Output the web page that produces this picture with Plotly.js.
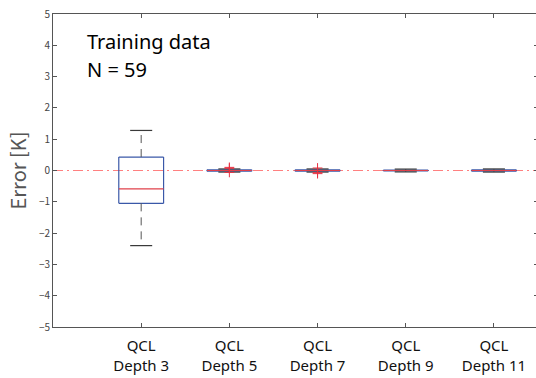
<!DOCTYPE html>
<html>
<head>
<meta charset="utf-8">
<script src="https://cdn.plot.ly/plotly-3.0.1.min.js"></script>
<style>
  html, body { margin: 0; padding: 0; overflow: hidden; background: #fff; }
  #chart { width: 540px; height: 378px; }
</style>
</head>
<body>
<div id="chart"></div>
<script>
// Box statistics of the error [K] for each QCL circuit depth
const positions = [1, 2, 3, 4, 5];
const tickLabels = ['QCL<br>Depth 3', 'QCL<br>Depth 5', 'QCL<br>Depth 7', 'QCL<br>Depth 9', 'QCL<br>Depth 11'];
const lowerWhisker = [-2.40, -0.05, -0.05, -0.045, -0.05];
const q1 = [-1.05, -0.02, -0.02, -0.015, -0.02];
const median = [-0.59, 0.0, 0.0, 0.0, 0.0];
const q3 = [0.43, 0.02, 0.02, 0.015, 0.02];
const upperWhisker = [1.28, 0.05, 0.05, 0.045, 0.05];
const outliers = [[], [0.10, 0.07, -0.06], [0.08, -0.07, -0.10], [], []];
const yTicks = [-5, -4, -3, -2, -1, 0, 1, 2, 3, 4, 5];

// drawing sizes (in x-axis units)
const halfBox = 0.254;
const halfCap = 0.125;

function segs(fn) {
  const xs = [], ys = [];
  positions.forEach((p, i) => {
    fn(p, i).forEach(s => { xs.push(s[0][0], s[1][0], null); ys.push(s[0][1], s[1][1], null); });
  });
  return { xs, ys };
}

const box = segs((p, i) => [
  [[p - halfBox, q1[i]], [p + halfBox, q1[i]]],
  [[p + halfBox, q1[i]], [p + halfBox, q3[i]]],
  [[p + halfBox, q3[i]], [p - halfBox, q3[i]]],
  [[p - halfBox, q3[i]], [p - halfBox, q1[i]]]
]);
const whisk = segs((p, i) => [
  [[p, q3[i]], [p, upperWhisker[i]]],
  [[p, q1[i]], [p, lowerWhisker[i]]]
]);
const caps = segs((p, i) => [
  [[p - halfCap, upperWhisker[i]], [p + halfCap, upperWhisker[i]]],
  [[p - halfCap, lowerWhisker[i]], [p + halfCap, lowerWhisker[i]]]
]);
const med = segs((p, i) => [[[p - halfBox, median[i]], [p + halfBox, median[i]]]]);

const outX = [], outY = [];
positions.forEach((p, i) => outliers[i].forEach(v => { outX.push(p); outY.push(v); }));

const traces = [
  { x: box.xs, y: box.ys, mode: 'lines', line: { color: '#3a58a8', width: 1.2 }, hoverinfo: 'skip' },
  { x: whisk.xs, y: whisk.ys, mode: 'lines', line: { color: '#555555', width: 1, dash: '8px,6px' }, hoverinfo: 'skip' },
  { x: caps.xs, y: caps.ys, mode: 'lines', line: { color: '#3a3a3a', width: 1.2 }, hoverinfo: 'skip' },
  { x: med.xs, y: med.ys, mode: 'lines', line: { color: '#e0404a', width: 1.2 }, hoverinfo: 'skip' },
  { x: outX, y: outY, mode: 'markers', marker: { symbol: 'cross-thin', size: 7, line: { color: '#e83040', width: 1 } }, hoverinfo: 'skip' }
];

const annotations = [
  { x: 0.067, y: 1, xref: 'paper', yref: 'paper', xanchor: 'left', yanchor: 'top', yshift: -12,
    text: 'Training data', showarrow: false, font: { family: 'Noto Sans', size: 20, color: '#000' } },
  { x: 0.067, y: 1, xref: 'paper', yref: 'paper', xanchor: 'left', yanchor: 'top', yshift: -40,
    text: 'N = 59', showarrow: false, font: { family: 'Noto Sans', size: 20, color: '#000' } }
];

const layout = {
  width: 540, height: 378,
  margin: { l: 53, r: 2, t: 14, b: 51, pad: 0 },
  paper_bgcolor: '#fff', plot_bgcolor: '#fff',
  showlegend: false,
  annotations: annotations,
  xaxis: {
    range: [0, 5.5], tickvals: positions, ticktext: tickLabels,
    tickfont: { family: 'Noto Sans', size: 15, color: '#111' }, ticklabelstandoff: 5,
    ticks: 'inside', ticklen: 4, tickcolor: '#555', showline: true, linecolor: '#555', linewidth: 1,
    mirror: 'ticks', showgrid: false, zeroline: false, fixedrange: true
  },
  yaxis: {
    range: [-5, 5], tickvals: yTicks, ticks: 'inside', ticklen: 4, tickcolor: '#555',
    showline: true, linecolor: '#555', linewidth: 1, mirror: 'ticks', showgrid: false, zeroline: false,
    tickfont: { family: 'Noto Sans CJK JP', size: 10, color: '#444' },
    title: { text: 'Error [K]', font: { family: 'Noto Sans CJK JP', size: 20, color: '#555' }, standoff: 6 }
  },
  shapes: [
    { type: 'line', xref: 'paper', x0: 0, x1: 1, yref: 'y', y0: 0, y1: 0, layer: 'below',
      line: { color: '#ff8080', width: 1, dash: '10px,4px,2px,4px' } }
  ]
};

Plotly.newPlot('chart', traces, layout, { displayModeBar: false, staticPlot: true });
</script>
</body>
</html>
